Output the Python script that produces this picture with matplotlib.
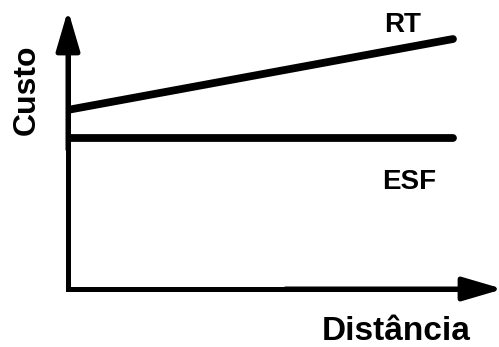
import matplotlib
matplotlib.use("Agg")
import matplotlib.pyplot as plt

plt.rcParams["font.family"] = ["Liberation Sans", "DejaVu Sans"]

# Schematic data: cost versus distance
distancia = [0, 8.85]
custo_rt = [6.42, 8.96]
custo_esf = [5.41, 5.41]

W, H = 499, 347
fig = plt.figure(figsize=(W / 100, H / 100), dpi=100)

# axes box: corner at pixel (68, 289), arrow tips near the figure edges
left, bottom = 68 / W, (H - 289) / H
ax = fig.add_axes([left, bottom, (503 - 68) / W, (289 - 10) / H])
ax.set_xlim(0, 10)
ax.set_ylim(0, 10)
ax.axis("off")

# lines
ax.plot(distancia, custo_rt, color="black", lw=5.6, solid_capstyle="round")
ax.plot(distancia, custo_esf, color="black", lw=5.6, solid_capstyle="round")

# axes with arrows
ax.plot([0, 0, 0.9], [0.9, 0, 0], transform=ax.transAxes, color="black",
        lw=3.6, solid_joinstyle="miter", clip_on=False)
arrow = dict(arrowstyle="-|>,head_length=2.45,head_width=0.72", color="black",
             lw=3.6, shrinkA=0, shrinkB=0, mutation_scale=10)
ax.annotate("", xy=(0, 1), xytext=(0, 0.5), xycoords="axes fraction",
            arrowprops=arrow, annotation_clip=False)
ax.annotate("", xy=(1, 0), xytext=(0.5, 0), xycoords="axes fraction",
            arrowprops=arrow, annotation_clip=False)

# labels
ax.text(7.68, 9.46, "RT", fontsize=20, fontweight="bold", ha="center", va="center")
ax.text(7.84, 3.84, "ESF", fontsize=20, fontweight="bold", ha="center", va="center")
fig.text(27 / W, 1 - 90 / H, "Custo", fontsize=23, fontweight="bold",
         rotation=90, ha="center", va="center")
fig.text(396 / W, 1 - 332 / H, "Distância", fontsize=24, fontweight="bold",
         ha="center", va="center")

fig.savefig("out.png", dpi=100)
